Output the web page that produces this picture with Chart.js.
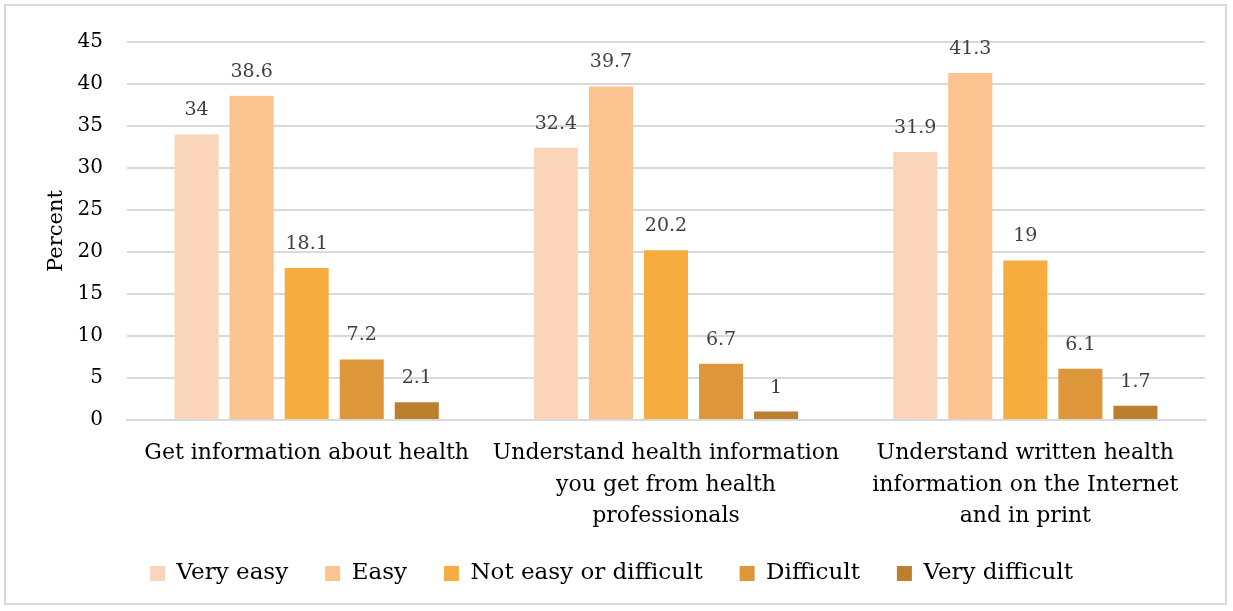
<!DOCTYPE html>
<html>
<head>
<meta charset="utf-8">
<script src="https://cdn.jsdelivr.net/npm/chart.js@4"></script>
<style>
  html, body { margin: 0; padding: 0; background: #fff; }
  #wrap {
    position: absolute; left: 4px; top: 4px;
    width: 1223px; height: 601px;
    border: 2px solid #d9d9d9; box-sizing: border-box;
  }
</style>
</head>
<body>
<div id="wrap"><canvas id="chart"></canvas></div>
<script>
// categories
const categories = [
  'Get information about health',
  ['Understand health information', 'you get from health', 'professionals'],
  ['Understand written health', 'information on the Internet', 'and in print']
];

// series values (percent)
const veryEasy      = [34, 32.4, 31.9];
const easy          = [38.6, 39.7, 41.3];
const notEasyOrDiff = [18.1, 20.2, 19];
const difficult     = [7.2, 6.7, 6.1];
const veryDifficult = [2.1, 1, 1.7];

const seriesNames  = ['Very easy', 'Easy', 'Not easy or difficult', 'Difficult', 'Very difficult'];
const seriesColors = ['#fbd5b9', '#fac38f', '#f7ac40', '#de963a', '#bc7f2e'];
const seriesData   = [veryEasy, easy, notEasyOrDiff, difficult, veryDifficult];

const yTicks = [0, 5, 10, 15, 20, 25, 30, 35, 40, 45];

const fontFam = '"DejaVu Serif", "Liberation Serif", serif';

// draw the value above each bar
const barLabels = {
  id: 'barLabels',
  afterDatasetsDraw(chart) {
    const ctx = chart.ctx;
    ctx.save();
    ctx.font = '19px ' + fontFam;
    ctx.fillStyle = '#404040';
    ctx.textAlign = 'center';
    ctx.textBaseline = 'middle';
    chart.data.datasets.forEach((ds, i) => {
      chart.getDatasetMeta(i).data.forEach((bar, j) => {
        ctx.fillText(String(ds.data[j]), bar.x, bar.y - 24);
      });
    });
    ctx.restore();
  }
};

// pull the legend row up a little and re-centre it on the page
const legendNudge = {
  id: 'legendNudge',
  afterLayout(chart) {
    const lg = chart.legend;
    lg.top -= 6;
    lg.bottom -= 6;
    lg.left -= 13;
    lg.right -= 13;
  }
};

new Chart(document.getElementById('chart'), {
  type: 'bar',
  data: {
    labels: categories,
    datasets: seriesNames.map((name, i) => ({
      label: name,
      data: seriesData[i],
      backgroundColor: seriesColors[i],
      borderWidth: 0,
      categoryPercentage: 0.766,
      barPercentage: 0.8
    }))
  },
  options: {
    responsive: true,
    maintainAspectRatio: false,
    animation: false,
    layout: { autoPadding: false, padding: { top: 25, right: 20, left: 38, bottom: 12 } },
    plugins: {
      legend: {
        position: 'bottom',
        maxHeight: 60,
        labels: {
          font: { family: fontFam, size: 23 },
          color: '#000',
          boxWidth: 15,
          boxHeight: 15,
          padding: 37
        }
      },
      tooltip: { enabled: false }
    },
    scales: {
      x: {
        grid: { display: false },
        border: { color: '#d9d9d9', width: 2 },
        ticks: {
          color: '#000',
          font: { family: fontFam, size: 22, lineHeight: 1.43 },
          maxRotation: 0,
          padding: 10
        },
        afterFit(scale) { scale.height = 111; }
      },
      y: {
        min: 0,
        max: 45,
        afterBuildTicks(axis) { axis.ticks = yTicks.map(v => ({ value: v })); },
        grid: { color: '#d9d9d9', lineWidth: 2, drawTicks: false },
        border: { display: false },
        ticks: {
          color: '#000',
          font: { family: fontFam, size: 20 },
          padding: 24
        },
        title: {
          display: true,
          text: 'Percent',
          color: '#000',
          font: { family: fontFam, size: 21 },
          padding: { top: 0, bottom: 8 }
        },
        afterFit(scale) { scale.width = 83; }
      }
    }
  },
  plugins: [barLabels, legendNudge]
});
</script>
</body>
</html>
